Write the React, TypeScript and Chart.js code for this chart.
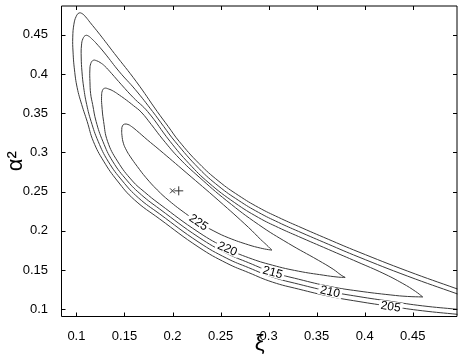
import React, { useEffect, useRef } from "react";
import { Chart, registerables } from "chart.js";

Chart.register(...registerables);

// ---- data ----
const xTicks = [0.1, 0.15, 0.2, 0.25, 0.3, 0.35, 0.4, 0.45];
const yTicks = [0.1, 0.15, 0.2, 0.25, 0.3, 0.35, 0.4, 0.45];
const contourLevels = [205, 210, 215, 220, 225];

const contour205: [number, number][] = [
  [0.5276, 0.0896], [0.4966, 0.0934], [0.4604, 0.0979], [0.4273, 0.1035], [0.3931, 0.1099],
  [0.3641, 0.1162], [0.331, 0.1257], [0.3041, 0.1345], [0.2793, 0.1466], [0.2565, 0.1586],
  [0.2276, 0.1788], [0.1862, 0.2155], [0.1603, 0.2396], [0.1427, 0.2636], [0.1283, 0.2889],
  [0.1176, 0.3142], [0.1112, 0.3395], [0.1055, 0.3611], [0.1008, 0.3826], [0.098, 0.4053],
  [0.0965, 0.4281], [0.0962, 0.4471], [0.0974, 0.4636], [0.0998, 0.4737], [0.1027, 0.4779],
  [0.106, 0.4771], [0.1096, 0.473], [0.1141, 0.4661], [0.1241, 0.4509], [0.1396, 0.4262],
  [0.1624, 0.3902], [0.1841, 0.3522], [0.1955, 0.3332], [0.2069, 0.3142], [0.2276, 0.2859],
  [0.2483, 0.2631], [0.269, 0.2449], [0.2896, 0.2297], [0.3103, 0.2171], [0.331, 0.2057],
  [0.3621, 0.1892], [0.3931, 0.1733], [0.4448, 0.1485], [0.4966, 0.1257], [0.5276, 0.1124],
];

const contour210: [number, number][] = [
  [0.5276, 0.096], [0.4966, 0.0998], [0.4604, 0.1042], [0.4273, 0.1099], [0.3931, 0.1162],
  [0.3641, 0.1225], [0.331, 0.132], [0.3041, 0.1409], [0.2793, 0.1529], [0.2565, 0.1649],
  [0.2276, 0.1852], [0.1862, 0.2219], [0.1645, 0.2421], [0.1479, 0.2636], [0.1329, 0.2889],
  [0.1226, 0.3142], [0.1153, 0.3395], [0.1107, 0.3611], [0.1076, 0.3826], [0.1058, 0.4028],
  [0.105, 0.4218], [0.1053, 0.437], [0.1068, 0.4452], [0.1096, 0.4493], [0.1127, 0.4484],
  [0.1158, 0.4452], [0.12, 0.4401], [0.1293, 0.4269], [0.1448, 0.4028], [0.1614, 0.38],
  [0.1793, 0.3522], [0.1908, 0.3332], [0.2025, 0.3142], [0.2276, 0.2794], [0.2483, 0.2567],
  [0.269, 0.2386], [0.2896, 0.2234], [0.3103, 0.2107], [0.331, 0.1993], [0.3621, 0.1829],
  [0.3931, 0.1669], [0.4448, 0.1421], [0.4966, 0.1194], [0.5276, 0.1061],
];

const contour215: [number, number][] = [
  [0.4604, 0.1156], [0.4448, 0.1162], [0.4273, 0.1181], [0.3931, 0.1232], [0.3641, 0.1289],
  [0.331, 0.1383], [0.3041, 0.1472], [0.2793, 0.1592], [0.2565, 0.1712], [0.2276, 0.1915],
  [0.1862, 0.2282], [0.1676, 0.2459], [0.1531, 0.2636], [0.1376, 0.2889], [0.1275, 0.3142],
  [0.1205, 0.3395], [0.1169, 0.3611], [0.1148, 0.375], [0.1141, 0.3902], [0.114, 0.4053],
  [0.115, 0.4136], [0.1176, 0.4176], [0.121, 0.417], [0.1246, 0.4148], [0.1293, 0.4104],
  [0.1365, 0.4009], [0.1469, 0.3864], [0.1593, 0.3699], [0.1741, 0.3522], [0.1974, 0.3142],
  [0.2172, 0.2858], [0.2379, 0.2611], [0.2648, 0.2358], [0.2896, 0.2168], [0.3103, 0.2041],
  [0.331, 0.1928], [0.3621, 0.1763], [0.3931, 0.1599], [0.419, 0.1459], [0.4397, 0.1327],
  [0.4531, 0.1225], [0.4604, 0.1156],
];

const contour220: [number, number][] = [
  [0.3797, 0.1405], [0.3724, 0.1409], [0.3569, 0.1434], [0.331, 0.1485], [0.3041, 0.1561],
  [0.2793, 0.1656], [0.2565, 0.1776], [0.2276, 0.1978], [0.1862, 0.2345], [0.1707, 0.2497],
  [0.1583, 0.2636], [0.1427, 0.2889], [0.1324, 0.3142], [0.1283, 0.3395], [0.1264, 0.3611],
  [0.1262, 0.3712], [0.127, 0.3788], [0.1293, 0.3819], [0.1334, 0.381], [0.1386, 0.3781],
  [0.1448, 0.3731], [0.152, 0.3668], [0.1593, 0.3598], [0.1673, 0.3516], [0.1779, 0.3357],
  [0.1903, 0.3161], [0.2069, 0.2927], [0.2276, 0.2687], [0.2565, 0.2383], [0.2896, 0.2079],
  [0.3207, 0.1839], [0.3517, 0.1624], [0.3672, 0.151], [0.3755, 0.1434], [0.3797, 0.1405],
];

const contour225: [number, number][] = [
  [0.3034, 0.1754], [0.3, 0.1759], [0.2917, 0.1779], [0.2793, 0.182], [0.2586, 0.1909],
  [0.2431, 0.1997], [0.2276, 0.2105], [0.2138, 0.2219], [0.1965, 0.2383], [0.1841, 0.2522],
  [0.1724, 0.2678], [0.1634, 0.282], [0.1557, 0.2953], [0.152, 0.3029], [0.1489, 0.3117],
  [0.1474, 0.3218], [0.1472, 0.3294], [0.1479, 0.3339], [0.15, 0.3361], [0.1536, 0.3357],
  [0.1572, 0.3332], [0.1624, 0.3282], [0.1738, 0.3161], [0.1862, 0.3035], [0.2141, 0.2744],
  [0.2483, 0.2383], [0.2793, 0.2041], [0.2917, 0.189], [0.2979, 0.182], [0.3015, 0.1776],
  [0.3034, 0.1754],
];

const contours = [contour205, contour210, contour215, contour220, contour225];

// approximate label anchors (data units), same order as contourLevels
const labelAnchors: [number, number][] = [
  [0.427, 0.1025], [0.3638, 0.121], [0.3041, 0.1463], [0.2565, 0.175], [0.2258, 0.2085],
];

const estimateMarker: [number, number][] = [[0.2, 0.251]];
const trueMarker: [number, number][] = [[0.2065, 0.251]];

const X_MIN = 0.085;
const X_MAX = 0.4966;
const Y_MIN = 0.09;
const Y_MAX = 0.4875;

const LINE_COLOR = "#3a3a3a";
const FONT = '"Liberation Sans", Arial, Helvetica, sans-serif';

const toPts = (arr: [number, number][]) => arr.map(([x, y]) => ({ x, y }));

const framePlugin = {
  id: "frameAndLabels",
  afterDatasetsDraw(chart: any) {
    const ctx: CanvasRenderingContext2D = chart.ctx;
    const { left, right, top, bottom } = chart.chartArea;
    const xs = chart.scales.x;
    const ys = chart.scales.y;

    ctx.save();
    ctx.beginPath();
    ctx.rect(left, top, right - left, bottom - top);
    ctx.clip();
    ctx.font = `12px ${FONT}`;
    ctx.textAlign = "center";
    ctx.textBaseline = "middle";
    contourLevels.forEach((lvl, i) => {
      const meta = chart.getDatasetMeta(i);
      const pts = meta.data.map((p: any) => ({ x: p.x, y: p.y }));
      const lx = xs.getPixelForValue(labelAnchors[i][0]);
      const ly = ys.getPixelForValue(labelAnchors[i][1]);
      let best = { d: Infinity, x: lx, y: ly, a: 0 };
      for (let k = 0; k < pts.length - 1; k++) {
        const a = pts[k];
        const b = pts[k + 1];
        const dx = b.x - a.x;
        const dy = b.y - a.y;
        const L = dx * dx + dy * dy;
        let t = L ? ((lx - a.x) * dx + (ly - a.y) * dy) / L : 0;
        t = Math.max(0, Math.min(1, t));
        const px = a.x + t * dx;
        const py = a.y + t * dy;
        const d = (px - lx) ** 2 + (py - ly) ** 2;
        if (d < best.d) best = { d, x: px, y: py, a: Math.atan2(dy, dx) };
      }
      let ang = best.a;
      if (ang > Math.PI / 2) ang -= Math.PI;
      if (ang < -Math.PI / 2) ang += Math.PI;
      const text = String(lvl);
      const w = ctx.measureText(text).width;
      ctx.save();
      ctx.translate(best.x, best.y);
      ctx.rotate(ang);
      ctx.fillStyle = "#ffffff";
      ctx.fillRect(-w / 2 - 2, -5, w + 4, 10);
      ctx.fillStyle = "#000000";
      ctx.fillText(text, 0, 0.5);
      ctx.restore();
    });
    ctx.restore();
  },
  afterDraw(chart: any) {
    const ctx: CanvasRenderingContext2D = chart.ctx;
    const { left, right, top, bottom } = chart.chartArea;
    const xs = chart.scales.x;
    const ys = chart.scales.y;
    ctx.save();
    ctx.strokeStyle = "#000000";
    ctx.lineWidth = 1;
    const L = left - 0.5;
    const R = right - 0.5;
    const T = top + 0.5;
    const B = bottom - 0.5;
    ctx.beginPath();
    ctx.moveTo(L, T);
    ctx.lineTo(R, T);
    ctx.lineTo(R, B);
    ctx.lineTo(L, B);
    ctx.closePath();
    ctx.stroke();
    const tl = 4;
    ctx.beginPath();
    xTicks.forEach((v) => {
      const px = Math.round(xs.getPixelForValue(v)) + 0.5;
      ctx.moveTo(px, B);
      ctx.lineTo(px, B - tl);
      ctx.moveTo(px, T);
      ctx.lineTo(px, T + tl);
    });
    yTicks.forEach((v) => {
      const py = Math.round(ys.getPixelForValue(v)) + 0.5;
      ctx.moveTo(L, py);
      ctx.lineTo(L + tl, py);
      ctx.moveTo(R, py);
      ctx.lineTo(R - tl, py);
    });
    ctx.stroke();
    ctx.restore();
  },
};

export default function App() {
  const canvasRef = useRef<HTMLCanvasElement | null>(null);

  useEffect(() => {
    if (!canvasRef.current) return;
    const contourSets = contours.map((c, i) => ({
      label: String(contourLevels[i]),
      data: toPts(c),
      showLine: true,
      borderColor: LINE_COLOR,
      borderWidth: 1,
      pointRadius: 0,
      pointHoverRadius: 0,
      tension: 0.45,
      fill: false,
    }));
    const chart = new Chart(canvasRef.current, {
      type: "scatter",
      data: {
        datasets: [
          ...contourSets,
          {
            label: "estimate",
            data: toPts(estimateMarker),
            pointStyle: "crossRot",
            pointRadius: 3.5,
            borderColor: "#333333",
            borderWidth: 1,
            showLine: false,
          },
          {
            label: "true",
            data: toPts(trueMarker),
            pointStyle: "cross",
            pointRadius: 4.5,
            borderColor: "#333333",
            borderWidth: 1,
            showLine: false,
          },
        ] as any,
      },
      options: {
        animation: false,
        responsive: false,
        events: [],
        layout: { padding: { top: 3, right: 3, left: 0, bottom: 0 } },
        plugins: {
          legend: { display: false },
          tooltip: { enabled: false },
          title: { display: false },
        },
        scales: {
          x: {
            type: "linear",
            position: "bottom",
            min: X_MIN,
            max: X_MAX,
            grid: { display: false },
            border: { display: false },
            afterBuildTicks: (scale: any) => {
              scale.ticks = xTicks.map((v) => ({ value: v }));
            },
            afterFit: (scale: any) => {
              scale.height = 42;
              scale.paddingLeft = 0;
              scale.paddingRight = 0;
            },
            ticks: {
              color: "#000000",
              font: { family: FONT, size: 13 },
              padding: 4,
              maxRotation: 0,
              autoSkip: false,
              callback: (v: any) => String(+Number(v).toFixed(2)),
            },
            title: {
              display: true,
              text: "ξ",
              color: "#000000",
              font: { family: FONT, size: 22 },
              padding: { top: 0, bottom: 2 },
            },
          },
          y: {
            type: "linear",
            min: Y_MIN,
            max: Y_MAX,
            grid: { display: false },
            border: { display: false },
            afterBuildTicks: (scale: any) => {
              scale.ticks = yTicks.map((v) => ({ value: v }));
            },
            afterFit: (scale: any) => {
              scale.width = 62;
              scale.paddingTop = 0;
              scale.paddingBottom = 0;
            },
            ticks: {
              color: "#000000",
              font: { family: FONT, size: 13 },
              padding: 6,
              autoSkip: false,
              callback: (v: any) => String(+Number(v).toFixed(2)),
            },
            title: {
              display: true,
              text: "α²",
              color: "#000000",
              font: { family: FONT, size: 22 },
              padding: { top: 3, bottom: 0 },
            },
          },
        },
      },
      plugins: [framePlugin],
    });
    return () => chart.destroy();
  }, []);

  return (
    <div style={{ position: "absolute", left: 0, top: 0, width: 463, height: 359, background: "#fff" }}>
      <canvas ref={canvasRef} width={463} height={359} style={{ display: "block" }} />
    </div>
  );
}
